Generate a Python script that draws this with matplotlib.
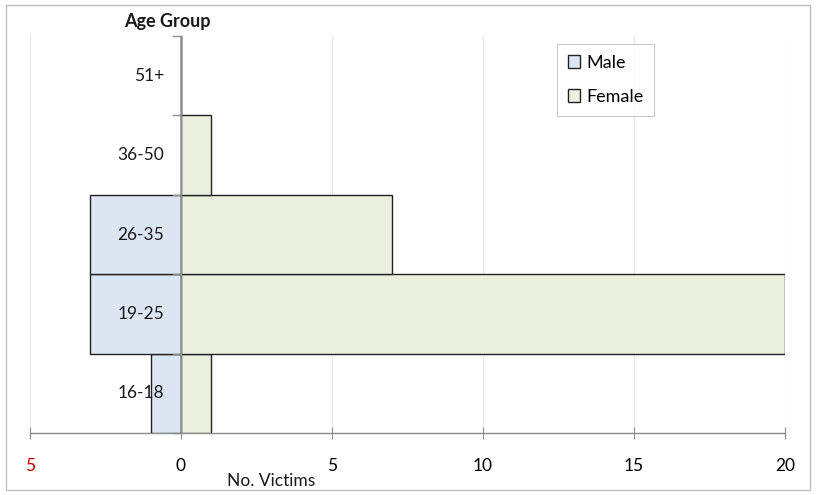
import matplotlib
matplotlib.use("Agg")
import matplotlib.pyplot as plt
from matplotlib.patches import Rectangle
import numpy as np

plt.rcParams['font.family'] = ['Lato', 'DejaVu Sans']

age_groups = ["16-18", "19-25", "26-35", "36-50", "51+"]
male = [1, 3, 3, 0, 0]
female = [1, 20, 7, 1, 0]
x_ticks = [-5, 0, 5, 10, 15, 20]
x_tick_labels = ["5", "0", "5", "10", "15", "20"]

male_color = "#DCE6F2"
female_color = "#EBF0DE"
edge = "#222222"

fig = plt.figure(figsize=(8.16, 4.95), dpi=100)
ax = fig.add_axes([30/816, 1 - 433/495, (785 - 30)/816, (433 - 36)/495])

y = np.arange(len(age_groups))
ax.barh(y, [-m for m in male], height=1.0, color=male_color, edgecolor=edge,
        linewidth=1.0, label="Male", zorder=3)
ax.barh(y, female, height=1.0, color=female_color, edgecolor=edge,
        linewidth=1.0, label="Female", zorder=3)

ax.set_xlim(-5, 20)
ax.set_ylim(-0.5, 4.5)

# vertical gridlines
for xv in x_ticks:
    if xv != 0:
        ax.axvline(xv, color="#E6E6E6", linewidth=0.8, zorder=0)

# category axis at zero
ax.axvline(0, color="#8C8C8C", linewidth=1.0, zorder=4)
for b in np.arange(-0.5, 5.0, 1.0):
    ax.plot([-0.28, 0], [b, b], color="#8C8C8C", linewidth=1.0, zorder=4,
            clip_on=False)

# category labels left of the zero line
for yi, lab in zip(y, age_groups):
    ax.text(-0.55, yi, lab, ha="right", va="center", fontsize=12.5,
            color="#1a1a1a", zorder=5)

for s in ["left", "right", "top"]:
    ax.spines[s].set_visible(False)
ax.spines["bottom"].set_color("#8C8C8C")
ax.spines["bottom"].set_linewidth(1.0)
ax.set_yticks([])
ax.set_xticks(x_ticks)
ax.set_xticklabels(x_tick_labels, fontsize=12.5)
ax.tick_params(axis="x", direction="inout", length=8, color="#8C8C8C",
               pad=14)
ax.get_xticklabels()[0].set_color("#C00000")

ax.text(3.0, -1.1, "No. Victims", ha="center", va="center", fontsize=12.5,
        color="#1a1a1a")

fig.text(167/816, 1 - 21/495, "Age Group", ha="center", va="center",
         fontsize=13, fontweight="bold", color="#1a1a1a")

leg = ax.legend(loc="upper left", bbox_to_anchor=(557/816, 1 - 44/495),
                bbox_transform=fig.transFigure, fontsize=13, frameon=True,
                fancybox=False, handlelength=0.7, handleheight=0.7,
                handletextpad=0.3, labelspacing=1.0, borderpad=0.6,
                borderaxespad=0.0, edgecolor="#BFBFBF")
leg.get_frame().set_linewidth(0.8)

# outer chart border
fig.patches.append(Rectangle((6/816, 5/495), 804/816, 485/495,
                             transform=fig.transFigure, fill=False,
                             edgecolor="#BFBFBF", linewidth=1.0))

fig.savefig("out.png", dpi=100)
